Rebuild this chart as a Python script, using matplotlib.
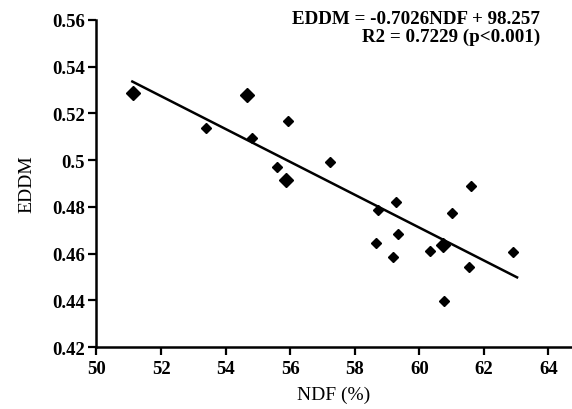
import numpy as np
import matplotlib
matplotlib.use('Agg')
import matplotlib.pyplot as plt

# NDF (%) vs EDDM points
ndf = [51.13, 54.66, 53.40, 54.81, 55.92, 55.59, 55.86, 57.22,
       58.71, 59.29, 59.33, 58.67, 59.18, 60.32, 60.73, 61.01,
       61.60, 61.53, 62.91, 60.78]
eddm = [0.5287, 0.5280, 0.5137, 0.5094, 0.5165, 0.4970, 0.4913, 0.4991,
        0.4785, 0.4821, 0.4684, 0.4643, 0.4586, 0.4610, 0.4638, 0.4775,
        0.4891, 0.4543, 0.4606, 0.4397]
# points that look heavier (overlapping) in the picture
big = [1, 1, 0, 0, 0, 0, 1, 0,
       0, 0, 0, 0, 0, 0, 1, 0,
       0, 0, 0, 0]

# regression line ends as drawn
fit_x = [51.11, 63.03]
fit_y = [0.5336, 0.4498]

xticks = [50, 52, 54, 56, 58, 60, 62, 64]
yticks = [0.42, 0.44, 0.46, 0.48, 0.5, 0.52, 0.54, 0.56]
ytick_labels = ['0.42', '0.44', '0.46', '0.48', '0.5', '0.52', '0.54', '0.56']

plt.rcParams['font.family'] = ['Liberation Serif', 'DejaVu Serif']

fig = plt.figure(figsize=(5.72, 4.10), dpi=100)
ax = fig.add_axes([0.1687, 0.1512, 0.8295, 0.798])

x = np.array(ndf)
y = np.array(eddm)
b = np.array(big, dtype=bool)
ax.plot(x[~b], y[~b], 'D', color='black', markersize=5.5, linestyle='none')
ax.plot(x[b], y[b], 'D', color='black', markersize=7, linestyle='none')
ax.plot(fit_x, fit_y, color='black', linewidth=1.8)

ax.set_xlim(50, 64.7)
ax.set_ylim(0.42, 0.56)
ax.set_xticks(xticks)
ax.set_yticks(yticks)
ax.set_yticklabels(ytick_labels)
for lab in ax.get_xticklabels() + ax.get_yticklabels():
    lab.set_fontweight('bold')
    lab.set_fontsize(13.5)

ax.spines['top'].set_visible(False)
ax.spines['right'].set_visible(False)
ax.spines['left'].set_linewidth(1.8)
ax.spines['bottom'].set_linewidth(1.8)
ax.tick_params(direction='out', length=5.5, width=1.6)
ax.tick_params(axis='y', pad=3)
ax.tick_params(axis='x', pad=4)

ax.set_xlabel('NDF (%)', fontsize=14, labelpad=6)
ax.set_ylabel('EDDM', fontsize=14, labelpad=12)

ax.text(0.9347, 1.0052, 'EDDM = -0.7026NDF + 98.257',
        transform=ax.transAxes, ha='right', va='center', fontsize=13.7,
        fontweight='bold')
ax.text(0.9347, 0.9487, 'R2 = 0.7229 (p<0.001)',
        transform=ax.transAxes, ha='right', va='center', fontsize=13.7,
        fontweight='bold')

fig.savefig('out.png', dpi=100)
